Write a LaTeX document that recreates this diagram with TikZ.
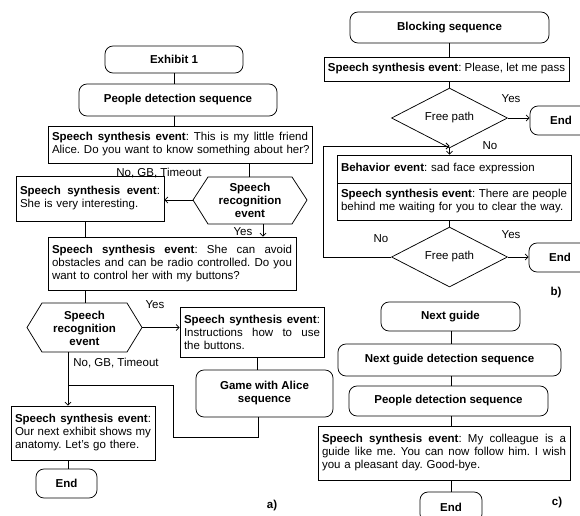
\documentclass[tikz,border=0pt]{standalone}
\usepackage{fontspec}
\setmainfont{Liberation Sans}
\usetikzlibrary{arrows.meta,shapes.geometric}
\setlength\parindent{0pt}
\frenchspacing
\newcommand\fs{\fontsize{11.5pt}{13pt}\selectfont}
\newcommand\jl[2]{\noindent\hbox to #1{\spaceskip=3.2pt plus 40pt\relax #2}\par}
\newcommand\nl[1]{\noindent\hbox{#1}\par}
\newcommand\sse{\textbf{Speech synthesis event}}
\begin{document}
\begin{tikzpicture}[x=1pt,y=-1pt,
  every node/.style={font=\fs},
  ln/.style={line width=0.75pt},
  rbox/.style={draw, ln, rounded corners=8pt, align=center, inner sep=0pt, font=\fs\bfseries},
  tbox/.style={draw, ln, inner xsep=4pt, inner ysep=0pt, align=left},
  dia/.style={draw, ln, diamond, inner sep=0pt, minimum width=116pt, minimum height=54pt},
  hexa/.style={ln},
  lbl/.style={inner sep=0pt},
  arr/.style={ln, -{Straight Barb[length=3pt,width=6pt]}},
]
\useasboundingbox (0,0) rectangle (580,515);

% ---------------- panel a ----------------
\node[rbox, minimum width=138pt, minimum height=27pt] (ex1) at (174,59.5) {Exhibit 1};
\node[rbox, minimum width=198pt, minimum height=32pt] (pds) at (178,100) {People detection sequence};
\node[tbox, text width=256pt, minimum height=37pt] (s1) at (180,144.5)
  {\jl{256pt}{\sse: This is my little friend}\nl{Alice. Do you want to know something about her?}};

\coordinate (h1l) at (193,200);
\coordinate (h1tl) at (208,177);
\coordinate (h1t) at (249,177);
\coordinate (h1tr) at (292,177);
\coordinate (h1r) at (307,200);
\coordinate (h1br) at (292,224);
\coordinate (h1b) at (263,224);
\coordinate (h1bl) at (208,224);
\draw[hexa] (h1l) -- (h1tl) -- (h1tr) -- (h1r) -- (h1br) -- (h1bl) -- cycle;
\node[align=center, font=\fs\bfseries, inner sep=0pt] (h1) at (250,200.5) {Speech\\recognition\\event};

\node[tbox, text width=140pt, minimum height=45pt] (s2) at (90,198.5)
  {\jl{140pt}{\sse:}\nl{She is very interesting.}};
\node[tbox, text width=240pt, minimum height=53pt] (s3) at (172,263.5)
  {\jl{240pt}{\sse: She can avoid}\jl{240pt}{obstacles and can be radio controlled. Do you}\nl{want to control her with my buttons?}};

\coordinate (h2l) at (27,327.5);
\coordinate (h2tl) at (42,303);
\coordinate (h2t) at (85,303);
\coordinate (h2tr) at (127,303);
\coordinate (h2r) at (142,327.5);
\coordinate (h2br) at (127,352);
\coordinate (h2b) at (68,352);
\coordinate (h2bl) at (42,352);
\draw[hexa] (h2l) -- (h2tl) -- (h2tr) -- (h2r) -- (h2br) -- (h2bl) -- cycle;
\node[align=center, font=\fs\bfseries, inner sep=0pt] (h2) at (84.5,328) {Speech\\recognition\\event};

\node[tbox, text width=136pt, minimum height=50pt] (s4) at (252,332)
  {\jl{136pt}{\sse:}\jl{136pt}{Instructions how to use}\nl{the buttons.}};
\node[rbox, minimum width=137pt, minimum height=47pt] (game) at (264.5,393.5) {Game with Alice\\sequence};
\node[tbox, text width=136pt, minimum height=54pt] (s5) at (83,433)
  {\jl{136pt}{\sse:}\jl{136pt}{Our next exhibit shows my}\nl{anatomy. Let's go there.}};
\node[rbox, minimum width=61pt, minimum height=29pt] (endA) at (66.5,483.5) {End};

\node[lbl] (nga) at (159,173.5) {No, GB, Timeout};
\node[lbl] (ya) at (243,232) {Yes};
\node[lbl] (yb) at (155,305) {Yes};
\node[lbl] (ngb) at (116,363) {No, GB, Timeout};
\node[lbl, font=\fs\bfseries] (la) at (272,506) {a)};

\coordinate (gx) at (257,0);
\coordinate (gb) at (258,437);
\coordinate (gc) at (173,437);
\coordinate (gd) at (173,385);
\coordinate (gj) at (68,385);

\draw[ln] (ex1.south) -- (ex1.south |- pds.north);
\draw[ln] (pds.south -| ex1.south) -- (ex1.south |- s1.north);
\draw[ln] (s1.south -| h1t) -- (h1t);
\draw[arr] (h1l) -- (s2.east |- h1l);
\draw[arr] (h1b) -- (s3.north -| h1b);
\draw[ln] (s2.south -| h2t) -- (s3.north -| h2t);
\draw[ln] (s3.south -| h2t) -- (h2t);
\draw[arr] (h2r) -- (s4.west |- h2r);
\draw[ln] (s4.south -| gx) -- (game.north -| gx);
\draw[arr] (h2b) -- (s5.north -| h2b);
\draw[ln] (game.south -| gb) -- (gb) -- (gc) -- (gd) -- (gj);
\draw[ln] (s5.south -| h2b) -- (endA.north -| h2b);

% ---------------- panel b ----------------
\node[rbox, minimum width=199pt, minimum height=31pt] (blk) at (449.5,27.5) {Blocking sequence};
\node[tbox, minimum width=243pt, minimum height=24pt] (sb1) at (446.5,69) {\sse: Please, let me pass};
\node[dia] (d1) at (449.5,118) {Free path};
\node[rbox, minimum width=62pt, minimum height=29pt] (endB1) at (561,120.5) {End};
\node[tbox, text width=226pt, minimum height=28pt] (beh1) at (454,169) {\textbf{Behavior event}: sad face expression};
\node[tbox, text width=226pt, minimum height=37pt] (beh2) at (454,201.5)
  {\jl{226pt}{\sse: There are people}\nl{behind me waiting for you to clear the way.}};
\node[dia] (d2) at (449.5,257) {Free path};
\node[rbox, minimum width=62pt, minimum height=29pt] (endB2) at (560,257.5) {End};

\node[lbl] (yc) at (511,99) {Yes};
\node[lbl] (nc) at (490,146) {No};
\node[lbl] (yd) at (511,235) {Yes};
\node[lbl] (nd) at (381,239) {No};
\node[lbl, font=\fs\bfseries] (lb) at (556,293) {b)};

\coordinate (lp1) at (323,257);
\coordinate (lp2) at (323,146);
\coordinate (lpj) at (449.5,146);

\draw[ln] (blk.south -| d1.north) -- (sb1.north -| d1.north);
\draw[ln] (sb1.south -| d1.north) -- (d1.north);
\draw[arr] (d1.east) -- (endB1.west |- d1.east);
\draw[arr] (d1.south) -- (beh1.north -| d1.south);
\draw[ln] (beh2.south -| d2.north) -- (d2.north);
\draw[arr] (d2.east) -- (endB2.west |- d2.east);
\draw[arr] (d2.west) -- (lp1) -- (lp2) -- (lpj);

% ---------------- panel c ----------------
\node[rbox, minimum width=139pt, minimum height=29pt] (ng) at (450.5,316.5) {Next guide};
\node[rbox, minimum width=223pt, minimum height=32pt] (ngd) at (449.5,360) {Next guide detection sequence};
\node[rbox, minimum width=199pt, minimum height=30pt] (pds2) at (448.5,401) {People detection sequence};
\node[tbox, text width=244pt, minimum height=54pt] (sc) at (444,453)
  {\jl{244pt}{\sse: My colleague is a}\jl{244pt}{guide like me. You can now follow him. I wish}\nl{you a pleasant day. Good-bye.}};
\node[rbox, minimum width=62pt, minimum height=30pt] (endC) at (451,507) {End};
\node[lbl, font=\fs\bfseries] (lc) at (557,503) {c)};

\coordinate (cx) at (451,0);
\draw[ln] (ng.south -| cx) -- (ngd.north -| cx);
\draw[ln] (ngd.south -| cx) -- (pds2.north -| cx);
\draw[ln] (pds2.south -| cx) -- (sc.north -| cx);
\draw[ln] (sc.south -| cx) -- (endC.north -| cx);
\end{tikzpicture}
\end{document}
